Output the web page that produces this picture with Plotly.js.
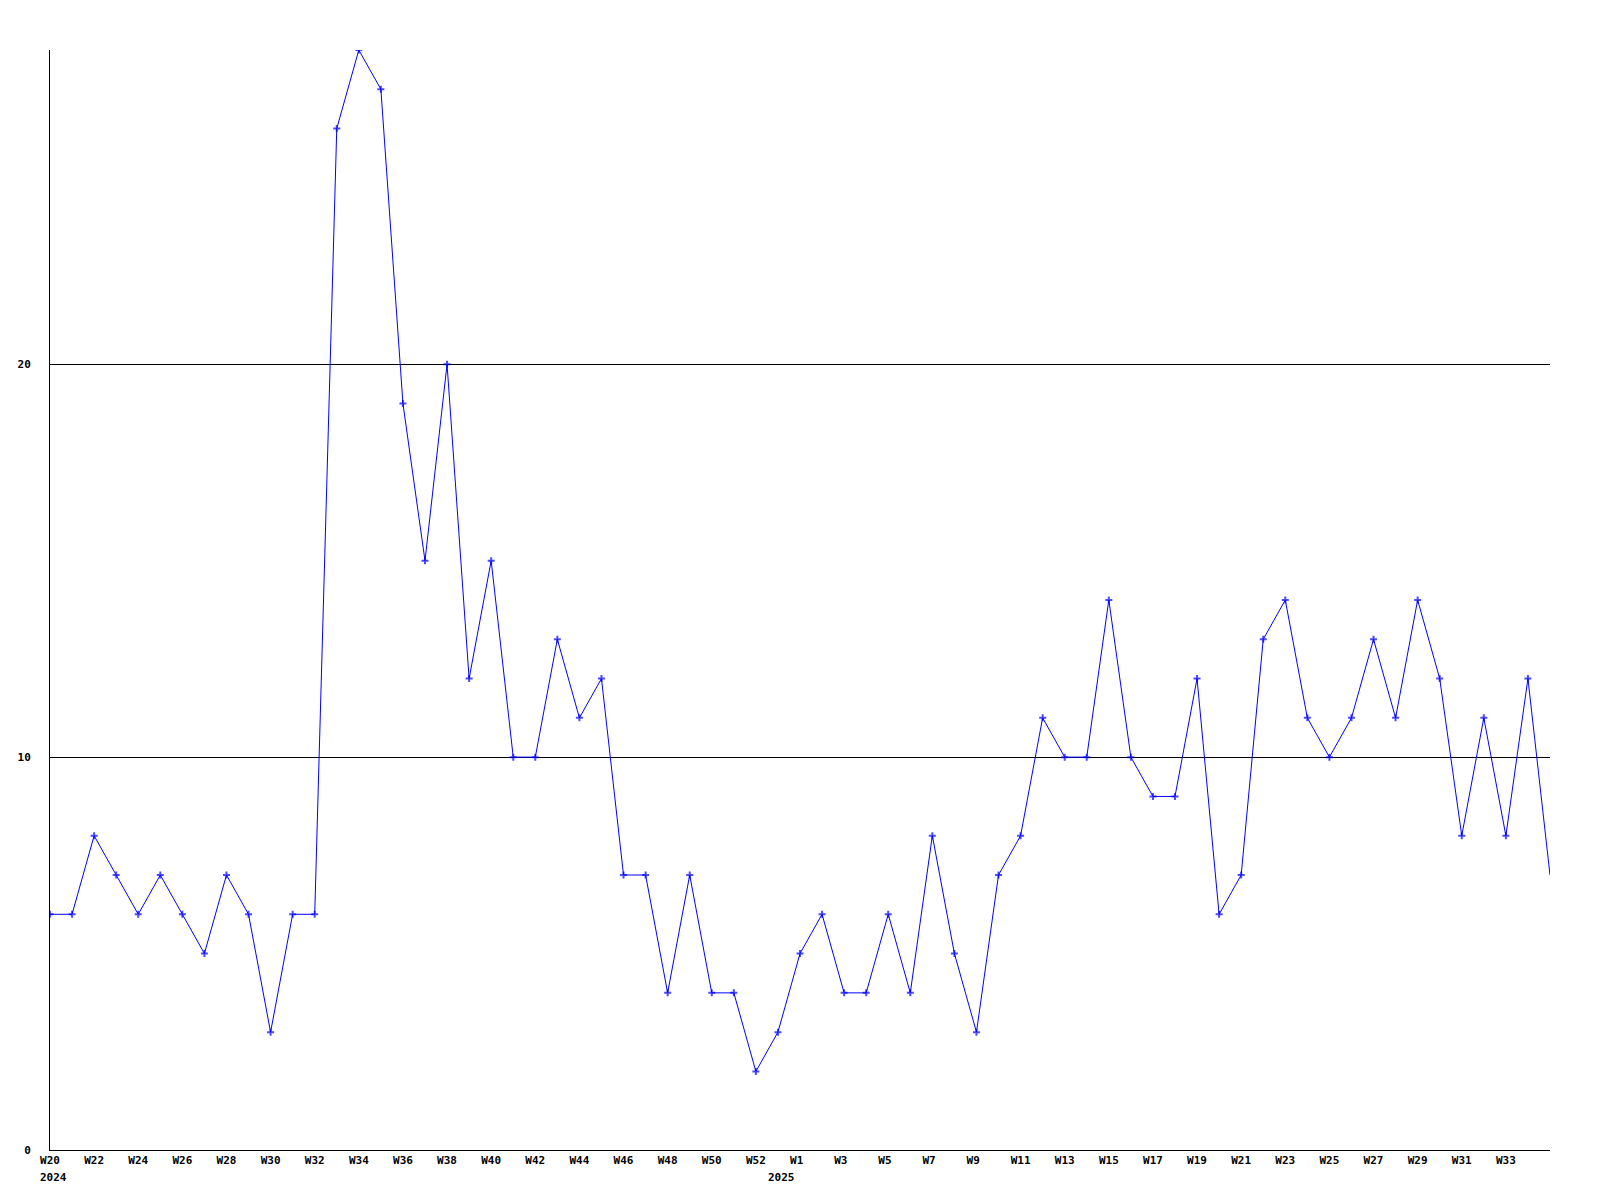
<!DOCTYPE html>
<html>
<head>
<meta charset="utf-8">
<script src="https://cdn.plot.ly/plotly-3.0.1.min.js"></script>
<style>html,body{margin:0;padding:0;background:#fff;}#chart{width:1600px;height:1200px;}</style>
</head>
<body>
<div id="chart"></div>
<script>
const weeks2024 = ["W20","W21","W22","W23","W24","W25","W26","W27","W28","W29","W30","W31","W32","W33","W34","W35","W36","W37","W38","W39","W40","W41","W42","W43","W44","W45","W46","W47","W48","W49","W50","W51","W52","W53"];
const values2024 = [6,6,8,7,6,7,6,5,7,6,3,6,6,26,28,27,19,15,20,12,15,10,10,13,11,12,7,7,4,7,4,4,2,3];
const weeks2025 = ["W1","W2","W3","W4","W5","W6","W7","W8","W9","W10","W11","W12","W13","W14","W15","W16","W17","W18","W19","W20","W21","W22","W23","W24","W25","W26","W27","W28","W29","W30","W31","W32","W33","W34","W35"];
const values2025 = [5,6,4,4,6,4,8,5,3,7,8,11,10,10,14,10,9,9,12,6,7,13,14,11,10,11,13,11,14,12,8,11,8,12,7];
// year captions and the week tick where each caption starts
const yearCaptions = [["2024", "2024", "W20"], ["2025", "2024", "W53"]];
const yTicks = [0, 10, 20];

const labels = weeks2024.concat(weeks2025);
const values = values2024.concat(values2025);
const years = weeks2024.map(() => "2024").concat(weeks2025.map(() => "2025"));
const xs = labels.map((_, i) => i);

const tickvals = [], ticktext = [];
for (let i = 0; i < labels.length - 1; i += 2) {
  tickvals.push(i);
  // pad to three characters so labels start at the same offset (monospace)
  let t = labels[i];
  while (t.length < 3) t += "\u00a0";
  ticktext.push(t);
}
const markerSizes = values.map((_, i) => i === values.length - 1 ? 0 : 5);

const font = {family: "DejaVu Sans Mono, monospace", size: 11, color: "#000", weight: "bold"};

const annotations = yearCaptions.map(([text, yr, wk]) => ({
  x: labels.findIndex((l, i) => l === wk && years[i] === yr),
  xref: "x", y: 0, yref: "paper",
  text: text, showarrow: false, font: font,
  xanchor: "left", yanchor: "top", xshift: -12, yshift: -19
}));

Plotly.newPlot("chart", [{
  x: xs, y: values, type: "scatter", mode: "lines+markers",
  line: {color: "#0000ff", width: 1},
  marker: {symbol: "cross-thin", size: markerSizes, color: "#0000ff", line: {color: "#0000ff", width: 2}},
  cliponaxis: true, hoverinfo: "skip"
}], {
  width: 1600, height: 1200,
  margin: {l: 50, r: 50, t: 50, b: 50},
  paper_bgcolor: "#fff", plot_bgcolor: "#fff",
  showlegend: false,
  font: font,
  annotations: annotations,
  xaxis: {
    range: [0, 68], tickvals: tickvals, ticktext: ticktext,
    showgrid: false, zeroline: false, showline: true, linecolor: "#000", linewidth: 1,
    ticks: "", tickfont: font, tickangle: 0
  },
  yaxis: {
    range: [0, 28], tickvals: yTicks, ticktext: yTicks.map(String),
    showgrid: true, gridcolor: "#000", gridwidth: 1,
    zeroline: false, showline: true, linecolor: "#000", linewidth: 1,
    ticks: "", tickfont: font, ticklabelstandoff: 16
  }
}, {staticPlot: true});
</script>
</body>
</html>
